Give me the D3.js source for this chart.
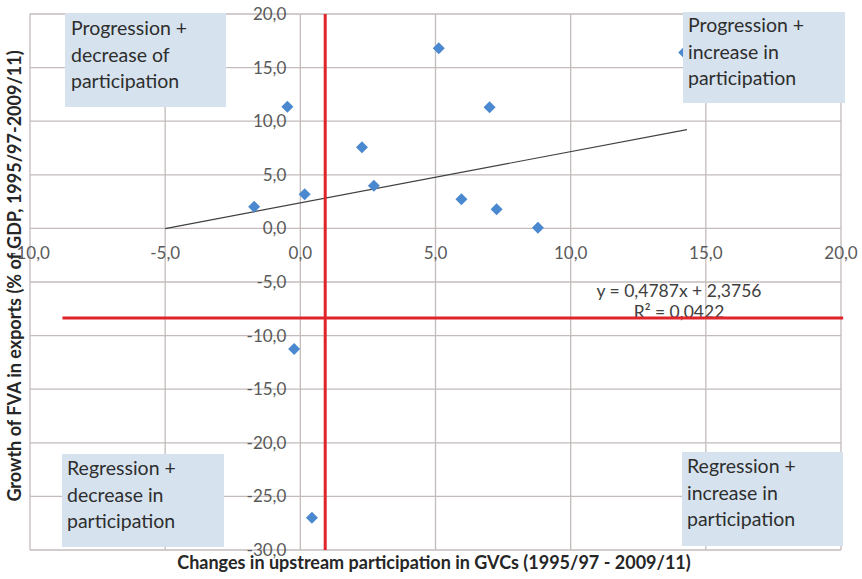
<!DOCTYPE html>
<html>
<head>
<meta charset="utf-8">
<script src="https://cdn.jsdelivr.net/npm/d3@7"></script>
<style>
  html, body { margin: 0; padding: 0; background: #fff; }
  svg { display: block; }
</style>
</head>
<body>
<svg id="chart" width="862" height="579"></svg>
<script>
// ---- data ----
const pointsX = [-0.48, 2.28, 2.72, 0.16, -1.71, 5.12, 7.0, 5.96, 7.26, 8.79, 14.2, -0.23, 0.43];
const pointsY = [11.35, 7.56, 3.98, 3.18, 2.02, 16.8, 11.3, 2.71, 1.78, 0.07, 16.4, -11.25, -27.0];
const xTicks = [-10, -5, 0, 5, 10, 15, 20];
const yTicks = [20, 15, 10, 5, 0, -5, -10, -15, -20, -25, -30];
const trendSlope = 0.4787;
const trendIntercept = 2.3756;
const trendRange = [-5, 14.3];
const redVerticalX = 0.92;
const redVerticalSpan = [-30, 20];
const redHorizontalY = -8.35;
const redHorizontalSpan = [-8.8, 20.08];
const quadrantLabels = [
  ["Progression +", "decrease of", "participation"],
  ["Progression +", "increase in", "participation"],
  ["Regression +", "decrease in", "participation"],
  ["Regression +", "increase in", "participation"]
];
const equationText = "y = 0,4787x + 2,3756";
const r2Text = "R² = 0,0422";
const xTitle = "Changes in upstream participation in GVCs (1995/97 - 2009/11)";
const yTitle = "Growth of FVA in exports (% of GDP, 1995/97-2009/11)";

// ---- layout ----
const svg = d3.select("#chart");
const L = 30, R = 841, T = 14, B = 550;
const x = d3.scaleLinear().domain([-10, 20]).range([L, R]);
const y = d3.scaleLinear().domain([-30, 20]).range([B, T]);
const fmt = v => d3.format(".1f")(v).replace(".", ",").replace("−", "-");
const FONT = "Lato, 'Open Sans', sans-serif";
const gridColor = "#c3bcbb";

// gridlines
svg.append("g").selectAll("line").data(xTicks).join("line")
  .attr("x1", d => x(d)).attr("x2", d => x(d))
  .attr("y1", T).attr("y2", B)
  .attr("stroke", gridColor).attr("stroke-width", 1.3);
svg.append("g").selectAll("line").data(yTicks).join("line")
  .attr("x1", L).attr("x2", R)
  .attr("y1", d => y(d)).attr("y2", d => y(d))
  .attr("stroke", gridColor).attr("stroke-width", 1.3);

// tick labels
svg.append("g").selectAll("text").data(xTicks).join("text")
  .attr("x", d => x(d)).attr("y", y(0) + 31)
  .attr("text-anchor", "middle")
  .attr("font-family", FONT).attr("font-size", 17).attr("fill", "#595959")
  .text(fmt);
svg.append("g").selectAll("text").data(yTicks).join("text")
  .attr("x", x(0) - 14).attr("y", d => y(d) + 6)
  .attr("text-anchor", "end")
  .attr("font-family", FONT).attr("font-size", 17).attr("fill", "#595959")
  .text(fmt);

// trendline
svg.append("line")
  .attr("x1", x(trendRange[0])).attr("y1", y(trendSlope * trendRange[0] + trendIntercept))
  .attr("x2", x(trendRange[1])).attr("y2", y(trendSlope * trendRange[1] + trendIntercept))
  .attr("stroke", "#404040").attr("stroke-width", 1.2);

// points
const pts = pointsX.map((v, i) => [v, pointsY[i]]);
svg.append("g").selectAll("path").data(pts).join("path")
  .attr("transform", d => `translate(${x(d[0])},${y(d[1])})`)
  .attr("d", "M0,-6L6,0L0,6L-6,0Z")
  .attr("fill", "#4a89cf");

// equation
svg.append("text").attr("x", 679).attr("y", 297)
  .attr("text-anchor", "middle").attr("font-family", FONT).attr("font-size", 17.5)
  .attr("fill", "#404040").text(equationText);
svg.append("text").attr("x", 679).attr("y", 318)
  .attr("text-anchor", "middle").attr("font-family", FONT).attr("font-size", 17.5)
  .attr("fill", "#404040").text(r2Text);

// red lines
svg.append("line")
  .attr("x1", x(redVerticalX)).attr("x2", x(redVerticalX))
  .attr("y1", y(redVerticalSpan[1])).attr("y2", y(redVerticalSpan[0]))
  .attr("stroke", "#e0242b").attr("stroke-width", 3);
svg.append("line")
  .attr("x1", x(redHorizontalSpan[0])).attr("x2", x(redHorizontalSpan[1]))
  .attr("y1", y(redHorizontalY)).attr("y2", y(redHorizontalY))
  .attr("stroke", "#e0242b").attr("stroke-width", 3);

// quadrant boxes
const boxes = [
  {x: 65, y: 13, w: 161, h: 94, tx: 71, off: 22},
  {x: 683, y: 12, w: 162, h: 91, tx: 688, off: 20},
  {x: 62, y: 454, w: 162, h: 93, tx: 67, off: 21},
  {x: 682, y: 452, w: 161, h: 94, tx: 687, off: 21}
];
boxes.forEach((b, i) => {
  const g = svg.append("g");
  g.append("rect").attr("x", b.x).attr("y", b.y).attr("width", b.w).attr("height", b.h)
    .attr("fill", "#d6e3ef");
  g.selectAll("text").data(quadrantLabels[i]).join("text")
    .attr("x", b.tx).attr("y", (d, j) => b.y + b.off + j * 26.5)
    .attr("font-family", FONT).attr("font-size", 19.5).attr("fill", "#2e2e2e")
    .text(d => d);
});

// axis titles
svg.append("text").attr("x", 434).attr("y", 569)
  .attr("text-anchor", "middle").attr("font-family", FONT).attr("font-weight", "bold")
  .attr("font-size", 18).attr("fill", "#262626").text(xTitle);
svg.append("text")
  .attr("transform", "translate(21,276) rotate(-90)")
  .attr("text-anchor", "middle").attr("font-family", FONT).attr("font-weight", "bold")
  .attr("font-size", 18).attr("fill", "#262626").text(yTitle);
</script>
</body>
</html>
